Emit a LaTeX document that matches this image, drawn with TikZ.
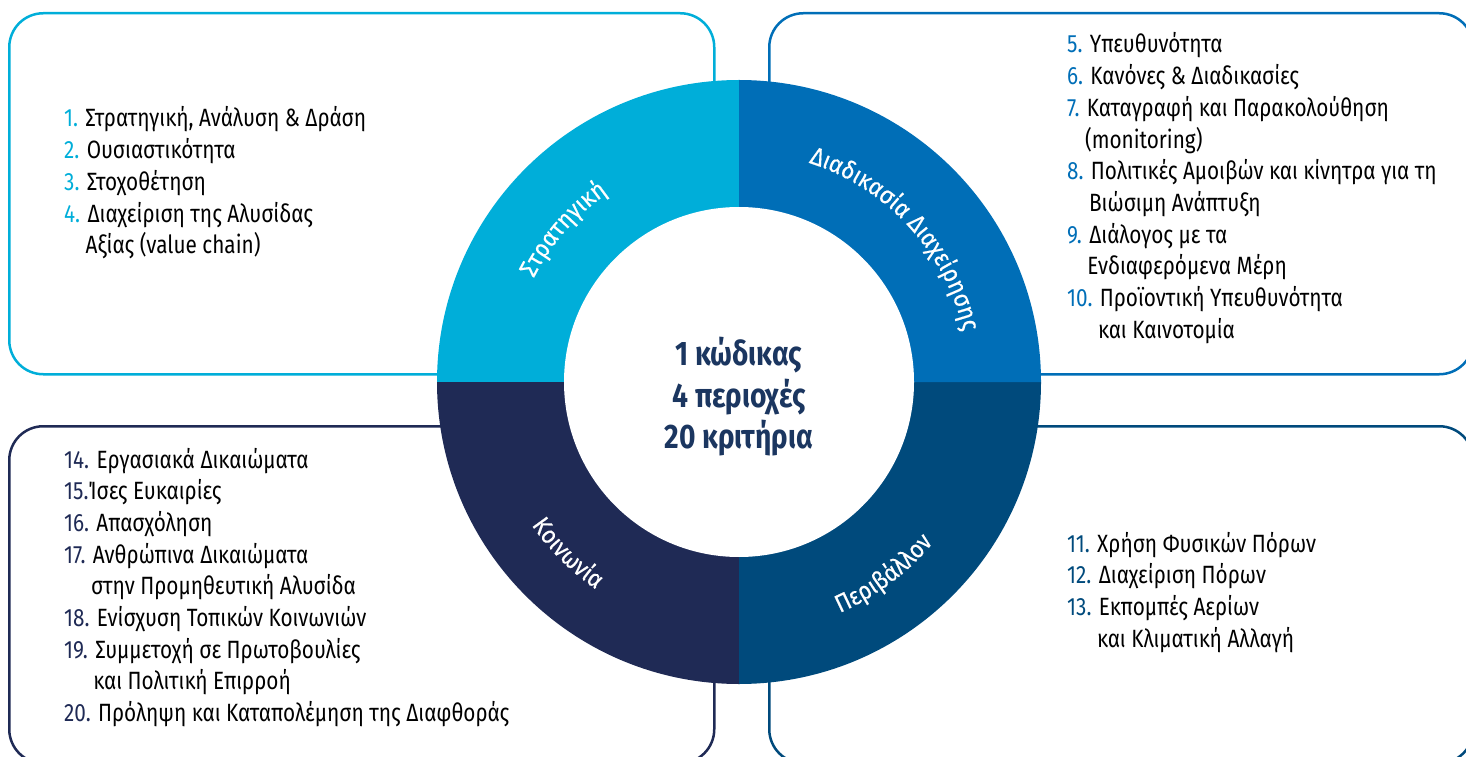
\documentclass[tikz,border=0pt]{standalone}
\usepackage{fontspec}
\setmainfont{Fira Sans}[FakeStretch=0.83]
\newfontfamily\ringfont{Fira Sans}[FakeStretch=0.9, FakeBold=0.4]
\usetikzlibrary{calc, decorations.text}
\definecolor{strBlue}{HTML}{00AED9}
\definecolor{mgmtBlue}{HTML}{006EB7}
\definecolor{envBlue}{HTML}{004A7C}
\definecolor{socNavy}{HTML}{1F2A55}
\definecolor{coreNavy}{HTML}{1B3660}
\newcommand\nr[2]{\textcolor{#1}{#2}}

\begin{document}
\begin{tikzpicture}[x=1pt,y=1pt]
    \tikzset{
      areabox/.style={
        draw=#1,
        line width=2.5pt,
        rounded corners=34pt,
        anchor=north west,
        inner sep=0pt,
      },
      lst/.style={
        anchor=base west,
        inner sep=0pt,
        font=\fontsize{25}{31.7}\selectfont,
      },
      arclbl/.style={
        decorate,
        decoration={text along path, text align=center, text color=white,
                    text={|\ringfont\fontsize{25}{25}\selectfont|#1}},
      }
    }

    \pgfmathsetmacro{\Rout}{302}
    \pgfmathsetmacro{\Rin}{175}

    \clip (0,0) rectangle (1466,756);

    % the four boxes
    \node[areabox=strBlue,  minimum width=705pt, minimum height=361pt] (strBox)  at (8,744)   {};
    \node[areabox=mgmtBlue, minimum width=704pt, minimum height=361pt] (mgmtBox) at (768,744) {};
    \node[areabox=socNavy,  minimum width=705pt, minimum height=337pt] (socBox)  at (8,331)   {};
    \node[areabox=envBlue,  minimum width=704pt, minimum height=337pt] (envBox)  at (768,331) {};

    % ring
    \coordinate (ctr) at (739,374);
    \fill[strBlue]  (ctr) -- ($(ctr)+(90:\Rout)$)  arc[start angle=90,  end angle=180, radius=\Rout] -- cycle;
    \fill[socNavy]  (ctr) -- ($(ctr)+(180:\Rout)$) arc[start angle=180, end angle=270, radius=\Rout] -- cycle;
    \fill[envBlue]  (ctr) -- ($(ctr)+(270:\Rout)$) arc[start angle=270, end angle=360, radius=\Rout] -- cycle;
    \fill[mgmtBlue] (ctr) -- ($(ctr)+(0:\Rout)$)   arc[start angle=0,   end angle=90,  radius=\Rout] -- cycle;
    \node[circle, fill=white, minimum size=2*\Rin, inner sep=0pt] (core) at (ctr) {};
    \node[align=center, text=coreNavy, font=\bfseries\fontsize{34}{41.5}\selectfont]
        (coreTxt) at ([yshift=-15pt]ctr) {1 κώδικας\\4 περιοχές\\20 κριτήρια};

    % ring labels
    \path[arclbl={Στρατηγική}]
        ($(ctr)+(169:230)$) arc[start angle=169, end angle=109, radius=230];
    \path[arclbl={Διαδικασία Διαχείρησης}]
        ($(ctr)+(90:230)$) arc[start angle=90, end angle=-5, radius=230];
    \path[arclbl={Περιβάλλον}]
        ($(ctr)+(-83:252)$) arc[start angle=-83, end angle=-23, radius=252];
    \path[arclbl={Κοινωνία}]
        ($(ctr)+(195:252)$) arc[start angle=195, end angle=255, radius=252];

    % lists
    \node[lst] (strLst) at (64,629) {\begin{tabular}[t]{@{}l@{}}
        \nr{strBlue}{1.} Στρατηγική, Ανάλυση \& Δράση\\
        \nr{strBlue}{2.} Ουσιαστικότητα\\
        \nr{strBlue}{3.} Στοχοθέτηση\\
        \nr{strBlue}{4.} Διαχείριση της Αλυσίδας\\
        \hphantom{4.} Αξίας (value chain)
      \end{tabular}};
    \node[lst] (mgmtLst) at (1067,703) {\begin{tabular}[t]{@{}l@{}}
        \nr{mgmtBlue}{5.} Υπευθυνότητα\\
        \nr{mgmtBlue}{6.} Κανόνες \& Διαδικασίες\\
        \nr{mgmtBlue}{7.} Καταγραφή και Παρακολούθηση\\
        \hphantom{7.} (monitoring)\\
        \nr{mgmtBlue}{8.} Πολιτικές Αμοιβών και κίνητρα για τη\\
        \hphantom{8.} Βιώσιμη Ανάπτυξη\\
        \nr{mgmtBlue}{9.} Διάλογος με τα\\
        \hphantom{9.} Ενδιαφερόμενα Μέρη\\
        \nr{mgmtBlue}{10.} Προϊοντική Υπευθυνότητα\\
        \hphantom{10.} και Καινοτομία
      \end{tabular}};
    \node[lst] (envLst) at (1067,204) {\begin{tabular}[t]{@{}l@{}}
        \nr{envBlue}{11.} Χρήση Φυσικών Πόρων\\
        \nr{envBlue}{12.} Διαχείριση Πόρων\\
        \nr{envBlue}{13.} Εκπομπές Αερίων\\
        \hphantom{13.} και Κλιματική Αλλαγή
      \end{tabular}};
    \node[lst] (socLst) at (64,288) {\begin{tabular}[t]{@{}l@{}}
        \nr{socNavy}{14.} Εργασιακά Δικαιώματα\\
        \nr{socNavy}{15.}Ίσες Ευκαιρίες\\
        \nr{socNavy}{16.} Απασχόληση\\
        \nr{socNavy}{17.} Ανθρώπινα Δικαιώματα\\
        \hphantom{17.} στην Προμηθευτική Αλυσίδα\\
        \nr{socNavy}{18.} Ενίσχυση Τοπικών Κοινωνιών\\
        \nr{socNavy}{19.} Συμμετοχή σε Πρωτοβουλίες\\
        \hphantom{19.} και Πολιτική Επιρροή\\
        \nr{socNavy}{20.} Πρόληψη και Καταπολέμηση της Διαφθοράς
      \end{tabular}};
\end{tikzpicture}
\end{document}
